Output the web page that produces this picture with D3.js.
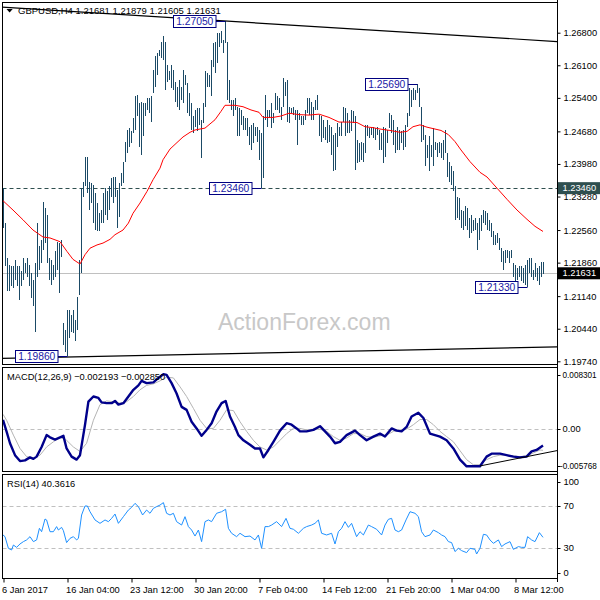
<!DOCTYPE html>
<html><head><meta charset="utf-8">
<script src="https://cdn.jsdelivr.net/npm/d3@7"></script>
<style>body{margin:0;background:#fff}svg{display:block}text{font-family:"Liberation Sans",Arial,sans-serif}</style>
</head><body><svg id="c" width="600" height="600"></svg>
<script>
// ---------- DATA ----------
const highs=[1.2346,1.2271,1.2196,1.2181,1.2178,1.2178,1.2192,1.2178,1.2178,1.2167,
1.2196,1.2185,1.2196,1.2181,1.2163,1.2149,1.2185,1.2271,1.2221,1.2235,
1.2317,1.2303,1.2289,1.2196,1.2192,1.2181,1.2210,1.2231,1.2228,1.2235,
1.2056,1.2042,1.2085,1.2085,1.2074,1.2085,1.2063,1.2113,1.2192,1.2346,
1.2360,1.2414,1.2414,1.2360,1.2357,1.2353,1.2335,1.2314,1.2292,1.2299,
1.2335,1.2346,1.2339,1.2350,1.2367,1.2371,1.2371,1.2342,1.2357,1.2378,
1.2403,1.2446,1.2471,1.2475,1.2468,1.2496,1.2543,1.2546,1.2529,1.2532,
1.2529,1.2529,1.2539,1.2539,1.2543,1.2600,1.2629,1.2636,1.2643,1.2661,
1.2672,1.2661,1.2611,1.2597,1.2611,1.2600,1.2575,1.2564,1.2579,1.2564,
1.2600,1.2589,1.2572,1.2550,1.2529,1.2500,1.2514,1.2518,1.2518,1.2493,
1.2529,1.2597,1.2593,1.2589,1.2622,1.2657,1.2661,1.2679,1.2679,1.2683,
1.2665,1.2705,1.2661,1.2579,1.2536,1.2536,1.2539,1.2521,1.2518,1.2514,
1.2500,1.2496,1.2496,1.2478,1.2482,1.2486,1.2478,1.2478,1.2471,1.2464,
1.2500,1.2546,1.2514,1.2514,1.2529,1.2507,1.2550,1.2543,1.2539,1.2521,
1.2582,1.2575,1.2579,1.2521,1.2518,1.2521,1.2514,1.2514,1.2507,1.2500,
1.2500,1.2514,1.2539,1.2539,1.2532,1.2521,1.2536,1.2546,1.2504,1.2500,
1.2493,1.2478,1.2493,1.2482,1.2478,1.2461,1.2464,1.2486,1.2478,1.2489,
1.2521,1.2518,1.2507,1.2493,1.2514,1.2511,1.2500,1.2450,1.2443,1.2446,
1.2443,1.2482,1.2482,1.2475,1.2478,1.2478,1.2475,1.2478,1.2471,1.2464,
1.2478,1.2475,1.2471,1.2507,1.2504,1.2493,1.2471,1.2478,1.2471,1.2468,
1.2471,1.2482,1.2507,1.2561,1.2557,1.2561,1.2557,1.2569,1.2561,1.2521,
1.2482,1.2461,1.2439,1.2457,1.2439,1.2475,1.2446,1.2443,1.2446,1.2443,
1.2450,1.2471,1.2421,1.2403,1.2393,1.2382,1.2350,1.2328,1.2325,1.2299,
1.2296,1.2307,1.2303,1.2282,1.2289,1.2278,1.2282,1.2271,1.2282,1.2289,
1.2299,1.2296,1.2292,1.2278,1.2271,1.2253,1.2246,1.2249,1.2239,1.2217,
1.2210,1.2214,1.2214,1.2210,1.2214,1.2185,1.2181,1.2174,1.2178,1.2178,
1.2174,1.2181,1.2192,1.2196,1.2196,1.2171,1.2185,1.2174,1.2178,1.2188,1.2188];
const lows=[1.2260,1.2178,1.2124,1.2124,1.2135,1.2131,1.2149,1.2135,1.2106,1.2135,
1.2149,1.2163,1.2156,1.2135,1.2110,1.2092,1.2038,1.2156,1.2171,1.2185,
1.2214,1.2228,1.2185,1.2149,1.2138,1.2149,1.2156,1.2171,1.2120,1.2199,
1.2010,1.1995,1.1986,1.2024,1.2038,1.2035,1.2017,1.2042,1.2117,1.2163,
1.2328,1.2350,1.2335,1.2299,1.2314,1.2271,1.2256,1.2253,1.2253,1.2271,
1.2271,1.2289,1.2278,1.2299,1.2328,1.2314,1.2328,1.2260,1.2285,1.2350,
1.2357,1.2403,1.2421,1.2435,1.2443,1.2464,1.2471,1.2500,1.2435,1.2418,
1.2457,1.2500,1.2514,1.2507,1.2489,1.2550,1.2564,1.2589,1.2629,1.2625,
1.2622,1.2557,1.2575,1.2579,1.2561,1.2557,1.2532,1.2521,1.2514,1.2536,
1.2529,1.2568,1.2507,1.2500,1.2471,1.2464,1.2478,1.2468,1.2482,1.2410,
1.2486,1.2521,1.2564,1.2564,1.2543,1.2607,1.2593,1.2614,1.2650,1.2657,
1.2636,1.2657,1.2536,1.2529,1.2514,1.2500,1.2514,1.2457,1.2457,1.2482,
1.2471,1.2471,1.2457,1.2439,1.2428,1.2443,1.2457,1.2446,1.2407,1.2346,
1.2367,1.2493,1.2478,1.2496,1.2475,1.2486,1.2514,1.2514,1.2507,1.2493,
1.2521,1.2543,1.2489,1.2486,1.2507,1.2504,1.2493,1.2439,1.2493,1.2482,
1.2482,1.2493,1.2507,1.2504,1.2493,1.2493,1.2514,1.2514,1.2457,1.2446,
1.2453,1.2450,1.2443,1.2446,1.2418,1.2382,1.2385,1.2435,1.2457,1.2457,
1.2489,1.2457,1.2464,1.2464,1.2468,1.2486,1.2385,1.2400,1.2403,1.2407,
1.2403,1.2421,1.2457,1.2453,1.2461,1.2453,1.2450,1.2461,1.2428,1.2428,
1.2400,1.2414,1.2443,1.2475,1.2464,1.2439,1.2421,1.2428,1.2428,1.2443,
1.2428,1.2435,1.2478,1.2500,1.2521,1.2536,1.2536,1.2550,1.2521,1.2446,
1.2450,1.2393,1.2410,1.2382,1.2414,1.2393,1.2428,1.2414,1.2421,1.2410,
1.2407,1.2421,1.2371,1.2360,1.2353,1.2339,1.2278,1.2282,1.2278,1.2260,
1.2256,1.2264,1.2256,1.2239,1.2249,1.2253,1.2256,1.2214,1.2235,1.2253,
1.2271,1.2267,1.2256,1.2253,1.2242,1.2224,1.2224,1.2228,1.2214,1.2188,
1.2171,1.2185,1.2196,1.2185,1.2196,1.2156,1.2146,1.2149,1.2156,1.2146,
1.2142,1.2138,1.2133,1.2163,1.2156,1.2149,1.2156,1.2146,1.2138,1.2156,1.2161];

const maIdx=[0,5,10,15,20,23.5,28.5,32,35,38.5,41,43.5,47,50,53.5,56,60,62.7,65,68.5,
72,75,78.5,80,83.5,87,90,93.5,96,101,106,109,111,116,120,124,128,130,135,139,
143,148,153,158,163,168,173,177,181,185,188.5,193.5,198.5,202,205,208.5,212,216,219,222.7,
226,229,233.5,238.5,242,247,252,257,262,266,270];
const maVal=[1.2319,1.2299,1.2278,1.2256,1.2241,1.2239,1.2231,1.2210,1.2193,1.2183,
1.2203,1.2217,1.2224,1.2228,1.2236,1.2246,1.2256,1.2271,1.2292,1.2314,
1.2339,1.2364,1.2389,1.2407,1.2430,1.2444,1.2456,1.2466,1.2471,1.2475,
1.2493,1.2511,1.2524,1.2524,1.2521,1.2514,1.2509,1.2498,1.2498,1.2501,
1.2507,1.2504,1.2503,1.2505,1.2498,1.2488,1.2488,1.2487,1.2478,1.2476,
1.2473,1.2470,1.2466,1.2468,1.2478,1.2482,1.2477,1.2473,1.2470,1.2461,
1.2446,1.2428,1.2403,1.2380,1.2370,1.2346,1.2322,1.2299,1.2279,1.2264,1.2253];

const macdIdx=[0,1.8,3.5,6,8.5,11,13.5,15.2,16.8,19.3,21.8,23.5,26,27.7,30.2,31.8,34.3,36.8,38.5,41,
42.7,45.2,47.7,49.3,51.8,54.3,56,57.7,60.2,62.7,65.2,67.7,69.3,71.8,75.2,77.7,80.2,81.8,84.3,86.8,
89.3,91.8,94.3,96.8,99.3,101.8,104.3,106.8,109.3,111.3,113.5,116,117.7,120.2,123.5,126,128.5,130.2,132.7,135.2,
138.5,141.8,144.3,146.8,148.5,151.8,155.2,158.5,161,163.5,166,168.5,171.8,176,178.5,181.8,185.2,188.5,191,194.3,
196.8,199.3,201.8,204.3,207.7,210.2,213.5,218.5,221.8,225.2,228.5,231.8,235.2,238.5,241.8,244.3,248.5,251.8,255.2,258.5,
261.8,264.3,266.8,270];
const macdVal=[0.00124,-0.00033,-0.0019,-0.0035,-0.0043,-0.0042,-0.0038,-0.0040,-0.0037,-0.0024,
-0.0008,-0.0011,-0.0014,-0.0012,-0.0009,-0.0026,-0.0037,-0.0041,-0.0035,0.00057,
0.0037,0.0044,0.0042,0.0036,0.0035,0.0035,0.0038,0.0033,0.0035,0.0044,
0.0053,0.0059,0.0065,0.0062,0.0063,0.0069,0.0074,0.0073,0.0062,0.0048,
0.0030,0.0026,0.0010,0.0001,-0.0009,-0.0001,0.0008,0.0024,0.0035,0.0038,
0.0017,0.0003,-0.0008,-0.0015,-0.0021,-0.0026,-0.0026,-0.0038,-0.0028,-0.0017,
-0.0002,0.0008,0.0006,0.0001,-0.0003,-0.0003,-0.0001,0.0004,-0.0003,-0.0010,
-0.0019,-0.0017,-0.0008,-0.0002,-0.0008,-0.0015,-0.0010,-0.0006,-0.0010,0.0001,
-0.0002,-0.0003,0.0003,0.0017,0.0022,0.0015,-0.0006,-0.0010,-0.0015,-0.0026,
-0.0041,-0.0050,-0.0050,-0.0050,-0.0037,-0.0033,-0.0033,-0.0035,-0.0037,-0.0038,
-0.0037,-0.0030,-0.0028,-0.002193];

const sigIdx=[0,1.8,5.2,8.5,11.8,15.2,18.5,21.8,25.2,28.5,31.8,35.2,38.5,41.8,45.2,48.5,51.8,55.2,58.5,61.8,
65.2,68.5,71.8,75.2,78.5,81.8,85.2,88.5,91.8,95.2,98.5,101.8,105.2,108.5,111.8,115.2,118.5,121.8,125.2,128.5,
131.8,135.2,138.5,141.8,145.2,148.5,151.8,155.2,158.5,161.8,165.2,168.5,171.8,175.2,178.5,181.8,185.2,188.5,191.8,195.2,
198.5,201.8,205.2,208.5,211.8,215.2,218.5,221.8,225.2,228.5,231.8,235.2,238.5,241.8,245.2,248.5,251.8,255.2,258.5,261.8,
265.2,268.5,270];
const sigVal=[0.0020,0.0012,-0.0008,-0.0026,-0.0037,-0.0039,-0.0035,-0.0024,-0.0017,-0.0011,
-0.0015,-0.0024,-0.0030,-0.0019,0.0012,0.0033,0.0038,0.0037,0.0035,0.0037,
0.0044,0.0053,0.0059,0.0061,0.0065,0.0070,0.0069,0.0057,0.0044,0.0028,
0.0012,0.0001,0.0001,0.0012,0.0026,0.0025,0.0010,-0.0003,-0.0015,-0.0024,
-0.0028,-0.0024,-0.0015,-0.0006,0.0001,0.0001,-0.0001,0.0000,0.0000,-0.0003,
-0.0010,-0.0015,-0.0012,-0.0006,-0.0006,-0.0010,-0.0011,-0.0009,-0.0008,-0.0003,
-0.0001,0.0000,0.0006,0.0013,0.0013,0.0006,-0.0003,-0.0010,-0.0017,-0.0029,
-0.0041,-0.0048,-0.0048,-0.0041,-0.0037,-0.0035,-0.0035,-0.0036,-0.0037,-0.0036,
-0.0032,-0.0028,-0.00285];

const rsiIdx=[0,1,2.7,4.3,5.2,6.8,8.5,10.2,11.8,13.5,15.2,16.8,18.2,19.3,21,21.8,23.5,25.2,26.8,27.7,
29.3,30.2,31.8,33.5,35.2,36.8,37.7,39.3,41,42.2,43.5,46,48.5,51,52.7,54.3,56,57.7,60.2,62.7,
64.3,66,67.7,69.8,71.8,73.5,75.2,76.8,78.5,80.2,81.8,83.5,85.2,86.8,89.3,91,92.7,94.3,96,97.7,
99.3,101,102.7,104.3,106.8,109.3,111.3,112.7,114.3,116.8,118.5,121,123.5,126,127.7,129.3,131,132.7,134.3,136.8,
139.3,141.5,143.5,145.2,147.7,150.2,151.8,154.3,156,157.7,159.3,161.8,164.3,166,167.7,169.3,171,172.7,174.3,176.8,
178.5,180.2,182.7,184.3,186.8,189.3,191,192.7,194.3,196,197.7,199.3,201.5,203.5,206,207.7,209.3,211,213.5,215.2,
217.7,219.3,221,222.7,224.3,226,227.7,229.3,231.8,233.5,236,236.8,238.5,240.2,241.8,243.5,245.2,247.7,249.3,251,
253.5,255.2,257.7,259.3,261,262.3,264.3,266,268.2,270];
const rsiVal=[42.6,41.0,30,28.4,33.1,30.9,34.1,36.3,37.9,41.0,36.3,37.9,48.9,45.7,57.7,56.8,45.7,45.7,50.5,47.3,
49.8,46.7,35.4,39.4,41.0,37.9,39.4,61.5,70,70,64.6,56.8,53.6,56.8,55.2,58.3,62.4,53.6,59.9,66.2,
68.7,72.5,69.4,61.5,66.2,63.1,67.8,69.4,70.9,73.2,63.1,61.5,63.1,55.2,52.0,59.9,50.5,47.3,41.6,47.3,
36.3,55.2,56.8,55.2,63.1,64.6,66.9,48.9,44.2,41.0,44.2,41.0,41.6,37.9,42.6,30,50.5,50.5,52.0,55.2,
50.5,58.3,48.9,48.0,44.2,48.9,50.5,52.0,53.6,56.8,44.2,42.6,44.2,34.1,45.7,48.9,55.2,49.8,53.6,41.0,
45.7,42.6,52.0,50.5,48.0,42.6,52.0,57.4,58.3,47.3,45.7,47.3,56.8,64.6,63.1,59.9,45.7,41.0,42.6,47.3,
44.8,42.6,41.0,36.3,35.4,26.9,30.0,27.8,25.9,30.0,29.0,24.6,30.0,43.2,42.6,37.9,34.7,37.9,31.6,34.1,
36.3,29.0,31.6,30.9,30.9,41.0,37.9,36.3,44.8,40.36];

const priceTicks=[1.268,1.261,1.254,1.2468,1.2398,1.2328,1.2256,1.2186,1.2114,1.2044,1.1974];
const timeIdx=[0,32,64,96,128,160,192,224,256];
const timeLabels=["6 Jan 2017","16 Jan 04:00","23 Jan 12:00","30 Jan 20:00","7 Feb 04:00","14 Feb 12:00","21 Feb 20:00","1 Mar 04:00","8 Mar 12:00"];
const macdTicks=[0.008301,0,-0.005768];
const macdTickLabels=["0.008301","0.00","-0.005768"];
const rsiTicks=[100,70,30,0];
const rsiLevels=[70,30];
const annPrice=[1.2705,1.2569,1.2346,1.2133,1.1986];
const annIdx=[111,207,129,262,32];
const supportLevel=1.2346;
const lastPrice=1.21631;
const ohlc=[1.21681,1.21879,1.21605,1.21631];
const macdLast=[-0.002193,-0.002850];
const rsiLast=40.3616;
const upperTL=[[-1.5,1.2735],[277,1.2661]];
const lowerTL=[[-1.5,1.1980],[277,1.2005]];
const macdTL=[[238.5,-0.00495],[277,-0.00289]];

// ---------- LAYOUT ----------
const svg=d3.select("#c");
svg.append("rect").attr("width",600).attr("height",600).attr("fill","#fff");
const L=2.5,R=557.5;
const main={t:2.5,b:364.5}, mp={t:367.5,b:471.5}, rp={t:474.5,b:578.5};
const FONT='"Liberation Sans",Arial,sans-serif';

const x=d3.scaleLinear().domain([0,270]).range([3,543]);
const yP=d3.scaleLinear().domain([1.1974,1.268]).range([361.3,32.7]);
const yM=d3.scaleLinear().domain([-0.005768,0.008301]).range([472,367.5]);
const yR=d3.scaleLinear().domain([30,70]).range([548.3,506]);

const defs=svg.append("defs");
[["cm",main],["cmacd",mp],["crsi",rp]].forEach(([id,p])=>{
  defs.append("clipPath").attr("id",id).append("rect").attr("x",L).attr("y",p.t).attr("width",R-L).attr("height",p.b-p.t);
});

// ---------- MAIN PANEL ----------
const gm=svg.append("g").attr("clip-path","url(#cm)");
gm.append("text").attr("x",218).attr("y",330).attr("font-size",23).attr("fill","#c8c8c8").text("ActionForex.com");
gm.append("line").attr("x1",L).attr("x2",R).attr("y1",Math.round(yP(lastPrice))+0.5).attr("y2",Math.round(yP(lastPrice))+0.5)
  .attr("stroke","#c0c0c0").attr("stroke-width",1);
gm.append("line").attr("x1",L).attr("x2",R).attr("y1",Math.round(yP(supportLevel))+0.5).attr("y2",Math.round(yP(supportLevel))+0.5)
  .attr("stroke","#2f4f4f").attr("stroke-width",1).attr("stroke-dasharray","4,3");
gm.append("g").selectAll("line").data(highs).join("line")
  .attr("x1",(d,i)=>Math.round(x(i))+0.5).attr("x2",(d,i)=>Math.round(x(i))+0.5)
  .attr("y1",d=>yP(d)).attr("y2",(d,i)=>yP(lows[i]))
  .attr("stroke","#1b4a66").attr("stroke-width",1).attr("shape-rendering","crispEdges");
gm.append("path").datum(maIdx.map((d,i)=>[d,maVal[i]]))
  .attr("d",d3.line().x(d=>x(d[0])).y(d=>yP(d[1])))
  .attr("fill","none").attr("stroke","#ff0000").attr("stroke-width",1);
[upperTL,lowerTL].forEach(tl=>{
  gm.append("line").attr("x1",x(tl[0][0])).attr("y1",yP(tl[0][1])).attr("x2",x(tl[1][0])).attr("y2",yP(tl[1][1]))
    .attr("stroke","#000").attr("stroke-width",1.2);
});
annPrice.forEach((p,k)=>{
  const ax=Math.round(x(annIdx[k]))+0.5, ay=Math.round(yP(p))+0.5;
  const bw=42.5,bh=12,bx=ax-10-bw, by=yP(p)-bh/2;
  gm.append("line").attr("x1",bx+bw).attr("x2",ax).attr("y1",ay).attr("y2",ay).attr("stroke","#000080").attr("stroke-width",1);
  gm.append("rect").attr("x",Math.round(bx)+0.5).attr("y",Math.round(by)+0.5).attr("width",bw).attr("height",bh)
    .attr("fill","#fff").attr("stroke","#000080").attr("stroke-width",1);
  gm.append("text").attr("x",Math.round(bx)+0.5+bw/2).attr("y",Math.round(by)+0.5+bh/2).attr("dy","0.36em")
    .attr("text-anchor","middle").attr("font-size",10.3).attr("fill","#1a1aa6").text(d3.format(".5f")(p));
});
svg.append("path").attr("d","M6.5,9 L12.7,9 L9.6,12.6 Z").attr("fill","#000");
svg.append("text").attr("x",18).attr("y",14).attr("font-size",9.5).attr("fill","#000")
  .text("GBPUSD,H4  "+ohlc.map(d3.format(".5f")).join(" "));

// ---------- MACD PANEL ----------
const gmc=svg.append("g").attr("clip-path","url(#cmacd)");
gmc.append("line").attr("x1",L).attr("x2",R).attr("y1",Math.round(yM(0))+0.5).attr("y2",Math.round(yM(0))+0.5)
  .attr("stroke","#c0c0c0").attr("stroke-dasharray","4,3");
gmc.append("path").datum(sigIdx.map((d,i)=>[d,sigVal[i]]))
  .attr("d",d3.line().x(d=>x(d[0])).y(d=>yM(d[1])))
  .attr("fill","none").attr("stroke","#b4b4b4").attr("stroke-width",1);
gmc.append("path").datum(macdIdx.map((d,i)=>[d,macdVal[i]]))
  .attr("d",d3.line().x(d=>x(d[0])).y(d=>yM(d[1])))
  .attr("fill","none").attr("stroke","#00008b").attr("stroke-width",2.4).attr("stroke-linejoin","round");
gmc.append("line").attr("x1",x(macdTL[0][0])).attr("y1",yM(macdTL[0][1])).attr("x2",x(macdTL[1][0])).attr("y2",yM(macdTL[1][1]))
  .attr("stroke","#000").attr("stroke-width",1);
svg.append("text").attr("x",7).attr("y",379.5).attr("font-size",9.3).attr("fill","#000")
  .text("MACD(12,26,9) "+d3.format(".6f")(macdLast[0])+" "+d3.format(".6f")(macdLast[1]));

// ---------- RSI PANEL ----------
const gr=svg.append("g").attr("clip-path","url(#crsi)");
rsiLevels.forEach(v=>{
  gr.append("line").attr("x1",L).attr("x2",R).attr("y1",Math.round(yR(v))+0.5).attr("y2",Math.round(yR(v))+0.5)
    .attr("stroke","#c0c0c0").attr("stroke-dasharray","4,3");
});
gr.append("path").datum(rsiIdx.map((d,i)=>[d,rsiVal[i]]))
  .attr("d",d3.line().x(d=>x(d[0])).y(d=>yR(d[1])))
  .attr("fill","none").attr("stroke","#1e90ff").attr("stroke-width",1);
svg.append("text").attr("x",7).attr("y",487).attr("font-size",9.3).attr("fill","#000")
  .text("RSI(14) "+rsiLast.toFixed(4));

// ---------- PANEL FRAMES ----------
[main,mp,rp].forEach(p=>{
  svg.append("rect").attr("x",L).attr("y",p.t).attr("width",R-L).attr("height",p.b-p.t)
    .attr("fill","none").attr("stroke","#000").attr("stroke-width",1);
});

// ---------- AXES ----------
const ap=svg.append("g").attr("transform",`translate(${R},0)`)
  .call(d3.axisRight(yP).tickValues(priceTicks).tickFormat(d3.format(".5f")).tickSize(3).tickPadding(3));
ap.select(".domain").remove();
ap.selectAll("text").attr("font-size",9.3).attr("font-family",FONT).attr("fill","#000");
ap.selectAll("line").attr("stroke","#000");

[[supportLevel,"#2f4f4f"],[lastPrice,"#000"]].forEach(([v,c])=>{
  const yy=yP(v);
  svg.append("rect").attr("x",R+0.5).attr("y",yy-6).attr("width",42).attr("height",12).attr("fill",c);
  svg.append("text").attr("x",R+5).attr("y",yy).attr("dy","0.34em").attr("font-size",9.3).attr("fill","#fff").text(d3.format(".5f")(v));
});

// MACD axis
macdTicks.forEach((v,k)=>{
  const yy=yM(v), ty= k===0? yy+7.5 : (k===2? yy-6: yy);
  svg.append("line").attr("x1",R).attr("x2",R+3).attr("y1",Math.round(ty)+0.5).attr("y2",Math.round(ty)+0.5).attr("stroke","#000");
  svg.append("text").attr("x",k===2?R+2.5:R+5).attr("y",ty).attr("dy","0.34em")
    .attr("font-size",k===1?9.3:8.2).attr("fill","#000").text(macdTickLabels[k]);
});
// RSI axis
rsiTicks.forEach((v,k)=>{
  const yy=yR(v), ty= v===100? yy+7.4 : (v===0? yy-7.3 : yy);
  svg.append("line").attr("x1",R).attr("x2",R+3).attr("y1",Math.round(ty)+0.5).attr("y2",Math.round(ty)+0.5).attr("stroke","#000");
  svg.append("text").attr("x",R+6).attr("y",ty).attr("dy","0.34em").attr("font-size",9.3).attr("fill","#000").text(v);
});

// time axis
const at=svg.append("g").attr("transform",`translate(0,${rp.b})`)
  .call(d3.axisBottom(x).tickValues(timeIdx).tickFormat((d,i)=>timeLabels[i]).tickSize(4).tickPadding(4));
at.select(".domain").remove();
at.selectAll(".tick line").attr("stroke","#000").attr("transform","translate(0.5,0)");
at.selectAll("text").attr("font-size",9.3).attr("font-family",FONT).attr("fill","#000")
  .attr("text-anchor","start").attr("dx",-1.5);
svg.append("line").attr("x1",R).attr("x2",R).attr("y1",0).attr("y2",582).attr("stroke","#000");
</script></body></html>
